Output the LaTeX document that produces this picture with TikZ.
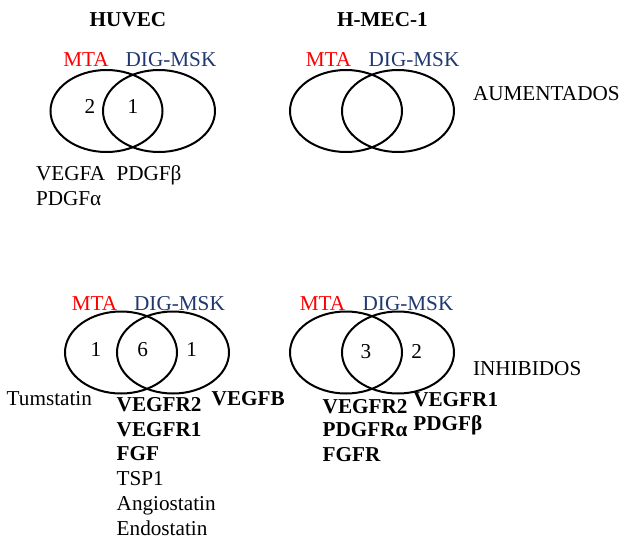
\documentclass[tikz,border=0pt]{standalone}
\usepackage{fontspec}
\setmainfont{Liberation Serif}
\usetikzlibrary{shapes.geometric}
\definecolor{mtared}{RGB}{255,0,0}
\definecolor{digblue}{RGB}{31,56,110}
\begin{document}
\begin{tikzpicture}[x=1pt,y=-1pt,
  every node/.style={inner sep=0pt,outer sep=0pt,font=\fontsize{21.2}{24}\selectfont},
  vennset/.style={draw=black,line width=2pt,ellipse,minimum width=112pt,minimum height=82pt},
  lbl/.style={anchor=base west},
  num/.style={anchor=base},
  title/.style={anchor=base,font=\fontsize{21.2}{24}\selectfont\bfseries},
  gene/.style={anchor=base west,font=\fontsize{21.2}{24}\selectfont\bfseries},
  mta/.style={anchor=base,text=mtared},
  dig/.style={anchor=base,text=digblue}]
\useasboundingbox (0,0) rectangle (622,539);

% ---- HUVEC, aumentados ----
\node[title] (t1) at (128,26.7) {HUVEC};
\node[vennset] (a1) at (106.5,111) {};
\node[vennset] (b1) at (159,111) {};
\node[mta] (m1) at (86,66.7) {MTA};
\node[dig] (d1) at (171,66.7) {DIG-MSK};
\node[num] (n1a) at (90,113) {2};
\node[num] (n1b) at (133,113) {1};
\node[lbl] (g1a) at (36,180) {VEGFA};
\node[lbl] (g1b) at (116.5,180) {PDGFβ};
\node[lbl] (g1c) at (36,205) {PDGFα};

% ---- H-MEC-1, aumentados ----
\node[title] (t2) at (382.5,26.7) {H-MEC-1};
\node[vennset] (a2) at (346,111) {};
\node[vennset] (b2) at (398,111) {};
\node[mta] (m2) at (328.5,66.7) {MTA};
\node[dig] (d2) at (414,66.7) {DIG-MSK};
\node[lbl] (up) at (473,100) {AUMENTADOS};

% ---- HUVEC, inhibidos ----
\node[vennset] (a3) at (121,352.5) {};
\node[vennset] (b3) at (173,352.5) {};
\node[mta] (m3) at (94.5,310) {MTA};
\node[dig] (d3) at (179.5,310) {DIG-MSK};
\node[num] (n3a) at (96,356.7) {1};
\node[num] (n3b) at (142.7,356.7) {6};
\node[num] (n3c) at (191.7,356.7) {1};
\node[lbl] (tum) at (6.7,405) {Tumstatin};
\node[gene] (vb) at (211.7,405) {VEGFB};
\node[gene] (r3a) at (116.7,411.7) {VEGFR2};
\node[gene] (r3b) at (116.7,436.7) {VEGFR1};
\node[gene] (r3c) at (116.7,460) {FGF};
\node[lbl] (r3d) at (116.7,485) {TSP1};
\node[lbl] (r3e) at (116.7,510) {Angiostatin};
\node[lbl] (r3f) at (116.7,535) {Endostatin};

% ---- H-MEC-1, inhibidos ----
\node[vennset] (a4) at (346,352.5) {};
\node[vennset] (b4) at (398,352.5) {};
\node[mta] (m4) at (322.5,310) {MTA};
\node[dig] (d4) at (408,310) {DIG-MSK};
\node[num] (n4a) at (366,358) {3};
\node[num] (n4b) at (416.7,358) {2};
\node[lbl] (down) at (473,375) {INHIBIDOS};
\node[gene] (r4a) at (322.7,413.3) {VEGFR2};
\node[gene] (r4b) at (322.7,436.7) {PDGFRα};
\node[gene] (r4c) at (322.7,461.7) {FGFR};
\node[gene] (s4a) at (413.3,406) {VEGFR1};
\node[gene] (s4b) at (413.3,430) {PDGFβ};
\end{tikzpicture}
\end{document}
